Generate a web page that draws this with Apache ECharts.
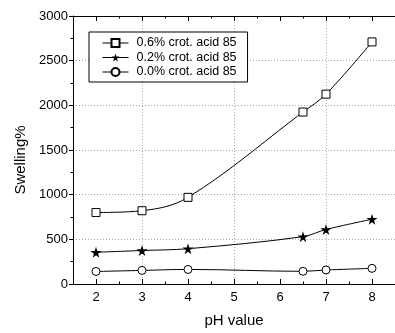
<!DOCTYPE html>
<html>
<head>
<meta charset="utf-8">
<script src="https://cdn.jsdelivr.net/npm/echarts@6/dist/echarts.min.js"></script>
<style>
  html, body { margin: 0; padding: 0; background: #fff; }
  #main { width: 395px; height: 333px; }
</style>
</head>
<body>
<div id="main"></div>
<script>
// pH values and swelling % for each crotonic acid content
var phValues = [2, 3, 4, 6.5, 7, 8];
var acid06 = [800, 820, 970, 1925, 2125, 2710];
var acid02 = [355, 375, 395, 530, 610, 725];
var acid00 = [140, 152, 163, 142, 157, 175];
var seriesNames = ['0.6% crot. acid 85', '0.2% crot. acid 85', '0.0% crot. acid 85'];
var xTickLabels = [2, 3, 4, 5, 6, 7, 8];

var star = 'path://M50,0 L61,35 L98,35 L68,57 L79,91 L50,70 L21,91 L32,57 L2,35 L39,35 Z';
var font = 'Liberation Sans, Arial, sans-serif';

function pairs(ys) {
    var out = [];
    for (var i = 0; i < phValues.length; i++) {
        out.push([phValues[i], ys[i]]);
    }
    return out;
}

var chart = echarts.init(document.getElementById('main'));

function minorAxis(pos) {
    return {
        type: 'value', position: pos, min: 1.5, max: 8.5, interval: 0.5,
        axisLine: { show: false },
        axisTick: { show: true, inside: true, length: 2.5, lineStyle: { color: '#000' } },
        axisLabel: { show: false },
        splitLine: { show: false }
    };
}

var option = {
    animation: false,
    backgroundColor: '#fff',
    grid: { left: 73, right: -7, top: 16, bottom: 49 },
    legend: {
        orient: 'vertical',
        left: 89, top: 32,
        padding: [4, 11, 3, 13],
        itemWidth: 26, itemHeight: 10, itemGap: 0.5,
        backgroundColor: '#fff',
        borderColor: '#000', borderWidth: 1,
        lineStyle: { width: 1 },
        textStyle: { fontFamily: font, fontSize: 12.5, color: '#000', lineHeight: 14, padding: [0, 0, 0, 3] },
        data: seriesNames
    },
    xAxis: [
        {
            type: 'value', position: 'bottom', min: 1.5, max: 8.5, interval: 0.5,
            name: 'pH value', nameLocation: 'middle', nameGap: 29,
            nameTextStyle: { fontFamily: font, fontSize: 15, color: '#000' },
            axisLine: { show: true, lineStyle: { color: '#000', width: 1 } },
            axisTick: { show: true, inside: true, length: 5, customValues: xTickLabels, lineStyle: { color: '#000' } },
            axisLabel: { fontFamily: font, fontSize: 13, color: '#000', margin: 7, customValues: xTickLabels },
            splitLine: { show: true, lineStyle: { color: ['rgba(0,0,0,0)', '#a8a8a8'], type: [1, 2], width: 1 } }
        },
        minorAxis('bottom'),
        {
            type: 'value', position: 'top', min: 1.5, max: 8.5, interval: 0.5,
            axisLine: { show: true, lineStyle: { color: '#000', width: 1 } },
            axisTick: { show: true, inside: true, length: 5, customValues: xTickLabels, lineStyle: { color: '#000' } },
            axisLabel: { show: false },
            splitLine: { show: false }
        },
        minorAxis('top')
    ],
    yAxis: {
        type: 'value', min: 0, max: 3000, interval: 500,
        name: 'Swelling%', nameLocation: 'middle', nameGap: 44,
        nameTextStyle: { fontFamily: font, fontSize: 15, color: '#000', padding: [0, 20, 0, 0] },
        axisLine: { show: true, lineStyle: { color: '#000', width: 1 } },
        axisTick: { show: true, inside: false, length: 4, lineStyle: { color: '#000' } },
        minorTick: { show: true, splitNumber: 2, length: 2.5, lineStyle: { color: '#000' } },
        axisLabel: {
            fontFamily: font, fontSize: 13, color: '#000', margin: 5,
            formatter: function (v) { return String(v); }
        },
        splitLine: { show: true, lineStyle: { color: '#a8a8a8', type: [1, 2], width: 1 } }
    },
    series: [
        {
            name: seriesNames[0], type: 'line', smooth: 0.35, xAxisIndex: 0,
            data: pairs(acid06),
            symbol: 'rect', symbolSize: 8,
            lineStyle: { color: '#000', width: 1 },
            itemStyle: { color: '#fff', borderColor: '#000', borderWidth: 1 }
        },
        {
            name: seriesNames[1], type: 'line', smooth: 0.35, xAxisIndex: 0,
            data: pairs(acid02),
            symbol: star, symbolSize: 11,
            lineStyle: { color: '#000', width: 1 },
            itemStyle: { color: '#000', borderColor: '#000', borderWidth: 0 }
        },
        {
            name: seriesNames[2], type: 'line', smooth: 0.35, xAxisIndex: 0,
            data: pairs(acid00),
            symbol: 'circle', symbolSize: 8,
            lineStyle: { color: '#000', width: 1 },
            itemStyle: { color: '#fff', borderColor: '#000', borderWidth: 1 }
        }
    ]
};

chart.setOption(option);
</script>
</body>
</html>
